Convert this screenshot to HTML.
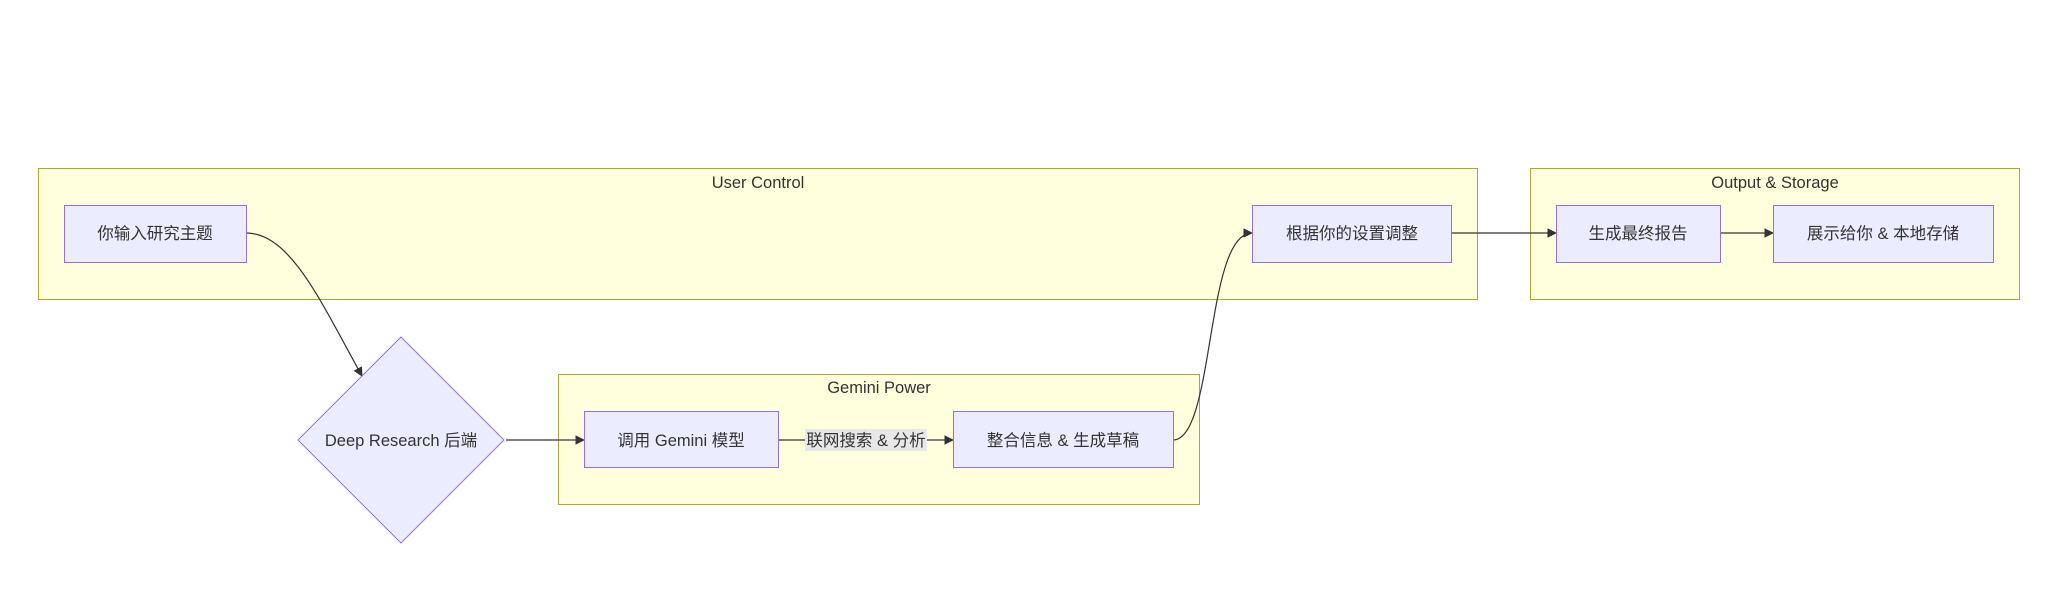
<!DOCTYPE html>
<html><head><meta charset="utf-8"><style>
html,body{margin:0;padding:0;background:#fff;}
text{font-family:"Liberation Sans","Noto Sans CJK SC",sans-serif;font-size:16.5px;fill:#333;}
</style></head><body>
<svg width="2064" height="610" viewBox="0 0 2064 610" xmlns="http://www.w3.org/2000/svg">
<defs><marker id="a" viewBox="0 0 10 10" refX="9" refY="5" markerWidth="8" markerHeight="8" orient="auto"><path d="M0,0L10,5L0,10z" fill="#333"/></marker></defs>
<g fill="#ffffde" stroke="#aaaa33" stroke-width="1">
<rect x="38.5" y="168.5" width="1439" height="131"/>
<rect x="1530.5" y="168.5" width="489" height="131"/>
<rect x="558.5" y="374.5" width="641" height="130"/>
</g>
<g text-anchor="middle">
<text x="758" y="188">User Control</text>
<text x="1775" y="188">Output &amp; Storage</text>
<text x="879" y="393">Gemini Power</text>
</g>
<g fill="none" stroke="#333" stroke-width="1.2">
<path d="M246,233 C290,233 320,300 362,376" marker-end="url(#a)"/>
<path d="M506,440 L584,440" marker-end="url(#a)"/>
<path d="M778,440 L953,440" marker-end="url(#a)"/>
<path d="M1173,440 C1215,440 1205,233 1252,233" marker-end="url(#a)"/>
<path d="M1451,233 L1556,233" marker-end="url(#a)"/>
<path d="M1720,233 L1773,233" marker-end="url(#a)"/>
</g>
<rect x="805" y="429" width="122" height="22" fill="#e8e8e8"/>
<text x="866" y="446" text-anchor="middle">联网搜索 &amp; 分析</text>
<g fill="#ececff" stroke="#9370db" stroke-width="1">
<rect x="64.5" y="205.5" width="182" height="57"/>
<polygon points="401,337 504,440 401,543 298,440"/>
<rect x="584.5" y="411.5" width="194" height="56"/>
<rect x="953.5" y="411.5" width="220" height="56"/>
<rect x="1252.5" y="205.5" width="199" height="57"/>
<rect x="1556.5" y="205.5" width="164" height="57"/>
<rect x="1773.5" y="205.5" width="220" height="57"/>
</g>
<g text-anchor="middle">
<text x="155" y="239">你输入研究主题</text>
<text x="401" y="446">Deep Research 后端</text>
<text x="681" y="446">调用 Gemini 模型</text>
<text x="1063" y="446">整合信息 &amp; 生成草稿</text>
<text x="1352" y="239">根据你的设置调整</text>
<text x="1638" y="239">生成最终报告</text>
<text x="1883" y="239">展示给你 &amp; 本地存储</text>
</g>
</svg>
</body></html>
